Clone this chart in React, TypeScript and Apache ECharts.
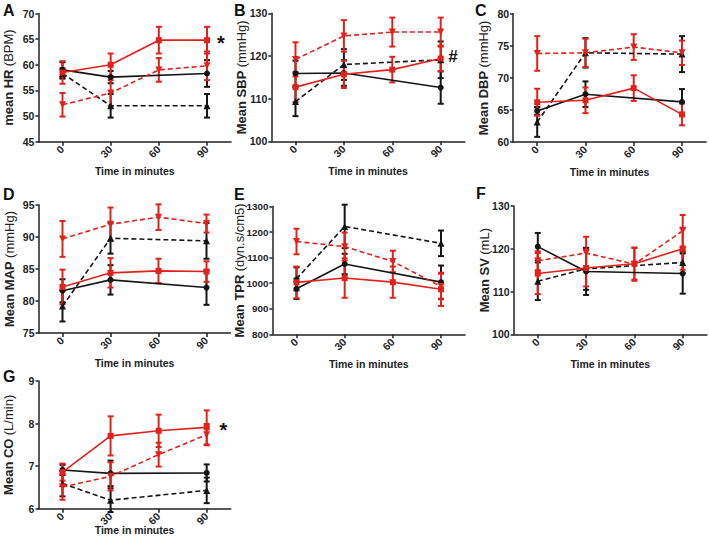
import React, { useEffect, useRef } from "react";
import * as echarts from "echarts";

// ---------------- data ----------------
const TIMES = ["0", "30", "60", "90"];
const X_TITLE = "Time in minutes";

// A – mean HR (BPM)
const HR_BLACK_SOLID = [59.0, 57.6, null, 58.3];
const HR_BLACK_SOLID_SEM = [1.5, 1.2, null, 2.6];
const HR_BLACK_DASHED = [58.3, 52.0, null, 52.0];
const HR_BLACK_DASHED_SEM = [1.0, 2.3, null, 2.3];
const HR_RED_SOLID = [58.5, 60.0, 64.8, 64.8];
const HR_RED_SOLID_SEM = [2.2, 2.2, 2.6, 2.6];
const HR_RED_DASHED = [52.2, 54.5, 59.0, 59.8];
const HR_RED_DASHED_SEM = [2.3, 2.5, 2.3, 2.8];

// B – mean SBP (mmHg)
const SBP_BLACK_SOLID = [115.9, 116.0, null, 112.6];
const SBP_BLACK_SOLID_SEM = [3.0, 3.0, null, 3.8];
const SBP_BLACK_DASHED = [109.3, 118.0, null, 119.1];
const SBP_BLACK_DASHED_SEM = [3.4, 3.6, null, 4.3];
const SBP_RED_SOLID = [112.7, 115.7, 116.8, 119.4];
const SBP_RED_SOLID_SEM = [3.5, 3.2, 3.0, 3.0];
const SBP_RED_DASHED = [119.2, 124.7, 125.6, 125.6];
const SBP_RED_DASHED_SEM = [4.0, 3.7, 3.4, 3.4];

// C – mean DBP (mmHg)
const DBP_BLACK_SOLID = [64.85, 67.45, null, 66.25];
const DBP_BLACK_SOLID_SEM = [0.6, 2.0, null, 2.0];
const DBP_BLACK_DASHED = [63.1, 73.9, null, 73.7];
const DBP_BLACK_DASHED_SEM = [2.3, 2.3, null, 2.8];
const DBP_RED_SOLID = [66.2, 66.5, 68.4, 64.3];
const DBP_RED_SOLID_SEM = [2.1, 2.0, 2.0, 1.7];
const DBP_RED_DASHED = [73.8, 73.9, 74.8, 73.9];
const DBP_RED_DASHED_SEM = [2.7, 2.2, 2.0, 1.9];

// D – mean MAP (mmHg)
const MAP_BLACK_SOLID = [81.6, 83.3, null, 82.1];
const MAP_BLACK_SOLID_SEM = [1.8, 2.3, null, 2.7];
const MAP_BLACK_DASHED = [79.2, 89.8, null, 89.4];
const MAP_BLACK_DASHED_SEM = [2.4, 2.4, null, 2.8];
const MAP_RED_SOLID = [82.2, 84.4, 84.7, 84.6];
const MAP_RED_SOLID_SEM = [2.7, 2.3, 1.9, 1.6];
const MAP_RED_DASHED = [89.7, 92.0, 93.1, 92.1];
const MAP_RED_DASHED_SEM = [2.8, 2.6, 2.0, 1.4];

// E – mean TPR (dyn.s/cm5)
const TPR_BLACK_SOLID = [978, 1075, null, 1004];
const TPR_BLACK_SOLID_SEM = [40, 40, null, 65];
const TPR_BLACK_DASHED = [1017, 1222, null, 1156];
const TPR_BLACK_DASHED_SEM = [45, 85, null, 50];
const TPR_RED_SOLID = [1003, 1020, 1004, 976];
const TPR_RED_SOLID_SEM = [62, 77, 61, 65];
const TPR_RED_DASHED = [1163, 1143, 1085, 987];
const TPR_RED_DASHED_SEM = [50, 55, 42, 50];

// F – mean SV (mL)
const SV_BLACK_SOLID = [120.5, 114.7, null, 114.2];
const SV_BLACK_SOLID_SEM = [3.2, 5.5, null, 4.7];
const SV_BLACK_DASHED = [112.4, 115.3, null, 116.8];
const SV_BLACK_DASHED_SEM = [4.4, 4.9, null, 2.5];
const SV_RED_SOLID = [114.2, 115.5, 116.5, 120.0];
const SV_RED_SOLID_SEM = [4.8, 4.3, 3.7, 4.9];
const SV_RED_DASHED = [117.2, 119.0, 116.4, 124.2];
const SV_RED_DASHED_SEM = [2.2, 3.8, 3.9, 3.7];

// G – mean CO (L/min)
const CO_BLACK_SOLID = [6.91, 6.83, null, 6.84];
const CO_BLACK_SOLID_SEM = [0.12, 0.3, null, 0.2];
const CO_BLACK_DASHED = [6.59, 6.2, null, 6.43];
const CO_BLACK_DASHED_SEM = [0.3, 0.28, null, 0.3];
const CO_RED_SOLID = [6.86, 7.71, 7.83, 7.91];
const CO_RED_SOLID_SEM = [0.2, 0.46, 0.38, 0.4];
const CO_RED_DASHED = [6.51, 6.76, 7.27, 7.74];
const CO_RED_DASHED_SEM = [0.3, 0.33, 0.28, 0.25];

// ---------------- styling / layout ----------------
const RED = "#e3211c";
const BLACK = "#151515";
const FONT = "'Liberation Sans', Arial, Helvetica, sans-serif";

const GROUP_STYLES = [
  { color: BLACK, dash: "solid", symbol: "circle", rotate: 0, size: 6 },
  { color: BLACK, dash: [5, 3], symbol: "triangle", rotate: 0, size: 7 },
  { color: RED, dash: "solid", symbol: "rect", rotate: 0, size: 6 },
  { color: RED, dash: [5, 3], symbol: "triangle", rotate: 180, size: 7 },
];

// x0 / x90: pixel positions of the first and last time point; top/bottom: plot extent
const PANELS = [
  {
    letter: "A", nameB: "mean HR", nameN: "(BPM)", yMin: 45, yMax: 70, yInt: 5,
    series: [
      [HR_BLACK_SOLID, HR_BLACK_SOLID_SEM], [HR_BLACK_DASHED, HR_BLACK_DASHED_SEM],
      [HR_RED_SOLID, HR_RED_SOLID_SEM], [HR_RED_DASHED, HR_RED_DASHED_SEM],
    ],
    L: { x0: 62.5, x90: 207, top: 13.5, bottom: 141.7, xGap: 24, yGap: 23, yFont: 10.5, lx: 3, ly: 10 },
  },
  {
    letter: "B", nameB: "Mean SBP", nameN: "(mmHg)", yMin: 100, yMax: 130, yInt: 10,
    series: [
      [SBP_BLACK_SOLID, SBP_BLACK_SOLID_SEM], [SBP_BLACK_DASHED, SBP_BLACK_DASHED_SEM],
      [SBP_RED_SOLID, SBP_RED_SOLID_SEM], [SBP_RED_DASHED, SBP_RED_DASHED_SEM],
    ],
    L: { x0: 295.5, x90: 440.7, top: 13.3, bottom: 141.3, xGap: 24, yGap: 23, yFont: 10.5, lx: 234, ly: 10 },
  },
  {
    letter: "C", nameB: "Mean DBP", nameN: "(mmHg)", yMin: 60, yMax: 80, yInt: 5,
    series: [
      [DBP_BLACK_SOLID, DBP_BLACK_SOLID_SEM], [DBP_BLACK_DASHED, DBP_BLACK_DASHED_SEM],
      [DBP_RED_SOLID, DBP_RED_SOLID_SEM], [DBP_RED_DASHED, DBP_RED_DASHED_SEM],
    ],
    L: { x0: 537.2, x90: 682, top: 13.7, bottom: 142, xGap: 24, yGap: 23, yFont: 10.5, lx: 475, ly: 10 },
  },
  {
    letter: "D", nameB: "Mean MAP", nameN: "(mmHg)", yMin: 75, yMax: 95, yInt: 5,
    series: [
      [MAP_BLACK_SOLID, MAP_BLACK_SOLID_SEM], [MAP_BLACK_DASHED, MAP_BLACK_DASHED_SEM],
      [MAP_RED_SOLID, MAP_RED_SOLID_SEM], [MAP_RED_DASHED, MAP_RED_DASHED_SEM],
    ],
    L: { x0: 62.5, x90: 206.5, top: 205, bottom: 333, xGap: 24, yGap: 23, yFont: 10.5, lx: 3, ly: 194 },
  },
  {
    letter: "E", nameB: "Mean TPR", nameN: "(dyn.s/cm5)", yMin: 800, yMax: 1300, yInt: 100,
    series: [
      [TPR_BLACK_SOLID, TPR_BLACK_SOLID_SEM], [TPR_BLACK_DASHED, TPR_BLACK_DASHED_SEM],
      [TPR_RED_SOLID, TPR_RED_SOLID_SEM], [TPR_RED_DASHED, TPR_RED_DASHED_SEM],
    ],
    L: { x0: 296.5, x90: 441, top: 206.5, bottom: 334.3, xGap: 24, yGap: 26, yFont: 9.8, lx: 234, ly: 194 },
  },
  {
    letter: "F", nameB: "Mean SV", nameN: "(mL)", yMin: 100, yMax: 130, yInt: 10,
    series: [
      [SV_BLACK_SOLID, SV_BLACK_SOLID_SEM], [SV_BLACK_DASHED, SV_BLACK_DASHED_SEM],
      [SV_RED_SOLID, SV_RED_SOLID_SEM], [SV_RED_DASHED, SV_RED_DASHED_SEM],
    ],
    L: { x0: 537.8, x90: 682.7, top: 206, bottom: 334.3, xGap: 24, yGap: 23, yFont: 10.5, lx: 476, ly: 193 },
  },
  {
    letter: "G", nameB: "Mean CO", nameN: "(L/min)", yMin: 6, yMax: 9, yInt: 1,
    series: [
      [CO_BLACK_SOLID, CO_BLACK_SOLID_SEM], [CO_BLACK_DASHED, CO_BLACK_DASHED_SEM],
      [CO_RED_SOLID, CO_RED_SOLID_SEM], [CO_RED_DASHED, CO_RED_DASHED_SEM],
    ],
    L: { x0: 62.5, x90: 206.7, top: 381, bottom: 508.7, xGap: 16, yGap: 23, yFont: 10.5, lx: 3, ly: 376 },
  },
];

const ANNOTATIONS = [
  { text: "*", x: 221, y: 43, size: 20 },
  { text: "#", x: 453, y: 56, size: 17 },
  { text: "*", x: 223.5, y: 430, size: 20 },
];

function buildOption() {
  const grid: any[] = [];
  const xAxis: any[] = [];
  const yAxis: any[] = [];
  const series: any[] = [];
  const graphic: any[] = [];

  PANELS.forEach((p, gi) => {
    const L = p.L;
    const band = (L.x90 - L.x0) / (TIMES.length - 1);
    const left = L.x0 - band / 2;
    grid.push({
      left, top: L.top, width: band * TIMES.length, height: L.bottom - L.top,
      containLabel: false, outerBoundsMode: "none",
    });
    const axisLine = { show: true, lineStyle: { color: "#222", width: 1.5 } };
    const axisTick = { show: true, length: 4, lineStyle: { color: "#222", width: 1.5 } };
    xAxis.push({
      type: "category", gridIndex: gi, data: TIMES, boundaryGap: true,
      axisLine, axisTick: { ...axisTick, alignWithLabel: true },
      splitLine: { show: false },
      axisLabel: {
        rotate: 45, margin: 6, fontSize: 10.5, fontWeight: "bold", interval: 0,
        fontFamily: FONT, color: "#222",
      },
      name: X_TITLE, nameLocation: "middle", nameGap: L.xGap, nameMoveOverlap: false,
      nameTextStyle: { fontSize: 10.5, fontWeight: "bold", fontFamily: FONT, color: "#222" },
    });
    yAxis.push({
      type: "value", gridIndex: gi, min: p.yMin, max: p.yMax, interval: p.yInt,
      axisLine, axisTick: { ...axisTick, length: 3 }, splitLine: { show: false },
      axisLabel: {
        margin: 4, fontSize: L.yFont, fontWeight: "bold", fontFamily: FONT, color: "#222",
        formatter: (v: number) => String(v),
      },
      name: `{b|${p.nameB}} {n|${p.nameN}}`, nameLocation: "middle", nameGap: L.yGap, nameMoveOverlap: false,
      nameTextStyle: {
        fontFamily: FONT, color: "#222",
        rich: {
          b: { fontSize: 13, fontWeight: "bold", fontFamily: FONT, color: "#222" },
          n: { fontSize: 13, fontWeight: "normal", fontFamily: FONT, color: "#222" },
        },
      },
    });

    p.series.forEach(([means, sems], si) => {
      const st = GROUP_STYLES[si];
      const bars: any[] = [];
      TIMES.forEach((t, i) => {
        if (means[i] === null || means[i] === undefined) return;
        bars.push([i, means[i], sems[i]]);
      });
      series.push({
        type: "custom", xAxisIndex: gi, yAxisIndex: gi, z: 2 + si,
        data: bars, encode: { x: 0, y: 1 }, silent: true,
        renderItem: (params: any, api: any) => {
          const x = api.value(0), m = api.value(1), e = api.value(2);
          const top = api.coord([x, m + e]);
          const bot = api.coord([x, m - e]);
          const hw = 3;
          const style = { stroke: st.color, lineWidth: 2 };
          return {
            type: "group",
            children: [
              { type: "line", shape: { x1: top[0], y1: top[1], x2: bot[0], y2: bot[1] }, style },
              { type: "line", shape: { x1: top[0] - hw, y1: top[1], x2: top[0] + hw, y2: top[1] }, style },
              { type: "line", shape: { x1: bot[0] - hw, y1: bot[1], x2: bot[0] + hw, y2: bot[1] }, style },
            ],
          };
        },
      });
      series.push({
        type: "line", xAxisIndex: gi, yAxisIndex: gi, z: 10 + si,
        data: means, connectNulls: true,
        symbol: st.symbol, symbolSize: st.size, symbolRotate: st.rotate,
        showSymbol: true, showAllSymbol: true,
        lineStyle: { color: st.color, width: 1.6, type: st.dash },
        itemStyle: { color: st.color, borderWidth: 0 },
      });
    });

    graphic.push({
      type: "text", x: L.lx, y: L.ly,
      style: { text: p.letter, fill: "#111", font: `bold 16px ${FONT}`, align: "left", verticalAlign: "middle" },
    });
  });

  ANNOTATIONS.forEach((a) => {
    graphic.push({
      type: "text", x: a.x, y: a.y,
      style: { text: a.text, fill: "#111", font: `bold ${a.size}px ${FONT}`, align: "center", verticalAlign: "middle" },
    });
  });

  return {
    animation: false,
    backgroundColor: "#ffffff",
    grid, xAxis, yAxis, series, graphic,
  };
}

export default function App() {
  const ref = useRef<HTMLDivElement>(null);
  useEffect(() => {
    if (!ref.current) return;
    const chart = echarts.init(ref.current, undefined, { renderer: "svg" });
    chart.setOption(buildOption() as any);
    return () => chart.dispose();
  }, []);
  return (
    <div
      ref={ref}
      style={{ position: "absolute", left: 0, top: 0, width: 709, height: 544, background: "#fff" }}
    />
  );
}
